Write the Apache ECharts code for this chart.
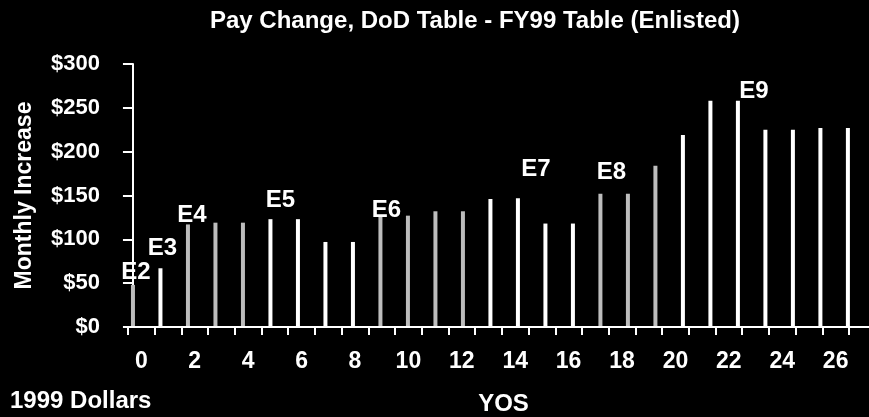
<!DOCTYPE html>
<html>
<head>
<meta charset="utf-8">
<script src="https://cdn.jsdelivr.net/npm/echarts@6/dist/echarts.min.js"></script>
<style>
  html, body { margin: 0; background: #000; }
  #chart { width: 869px; height: 417px; }
</style>
</head>
<body>
<div id="chart"></div>
<script>
// years of service, 0..26
const yos = [0, 1, 2, 3, 4, 5, 6, 7, 8, 9, 10, 11, 12, 13, 14, 15, 16, 17, 18, 19, 20, 21, 22, 23, 24, 25, 26];
// monthly increase, 1999 dollars
const increase = [48, 67, 117, 119, 119, 123, 123, 97, 97, 126, 127, 132, 132, 146, 147, 118, 118, 152, 152, 184, 219, 258, 258, 225, 225, 227, 227];
// stippled (grey) bars vs white bars
const shaded = [1, 0, 1, 1, 1, 0, 0, 0, 0, 1, 1, 1, 1, 0, 0, 0, 0, 1, 1, 1, 0, 0, 0, 0, 0, 0, 0];
// pay grade markers: index of bar -> grade
const gradeAt = { 0: "E2", 1: "E3", 2: "E4", 5: "E5", 9: "E6", 14: "E7", 17: "E8", 22: "E9" };
const yTicks = [0, 50, 100, 150, 200, 250, 300];

// nudges for the grade labels (as placed in the original)
const gradeOffset = {
  E2: [3, -1], E3: [2, -8], E4: [4, 3], E5: [10, -7],
  E6: [6, 6], E7: [18, -17], E8: [11, -9], E9: [16, 3],
};

const font = "'Liberation Sans', Arial, sans-serif";
const txt = { color: "#fff", fontFamily: font, fontWeight: "bold", fontSize: 22 };

const chart = echarts.init(document.getElementById("chart"));

const barData = yos.map((x, i) => {
  const g = gradeAt[i];
  const item = {
    value: [x, increase[i]],
    itemStyle: { color: shaded[i] ? "#bdbdbd" : "#fff" },
  };
  if (g) {
    item.label = {
      show: true,
      position: "top",
      distance: 0,
      offset: gradeOffset[g],
      formatter: g,
      ...txt,
      fontSize: 24,
    };
  }
  return item;
});

const option = {
  backgroundColor: "#000",
  animation: false,
  title: [
    {
      text: "Pay Change, DoD Table - FY99 Table (Enlisted)",
      left: 205,
      top: 4,
      textStyle: { ...txt, fontSize: 24 },
    },
    {
      text: "1999 Dollars",
      left: 5,
      top: 384,
      textStyle: { ...txt, fontSize: 24 },
    },
  ],
  grid: { left: 128, right: 20, top: 64, bottom: 90, containLabel: false, outerBoundsMode: "none" },
  xAxis: [
    {
      type: "category",
      data: yos.map(String),
      boundaryGap: true,
      axisLine: { show: true, onZero: false, lineStyle: { color: "#fff", width: 2 } },
      axisTick: { show: true, interval: 0, length: 8, lineStyle: { color: "#fff", width: 2 } },
      axisLabel: { show: true, interval: 1, margin: 23, ...txt, fontSize: 23 },
      splitLine: { show: false },
      name: "YOS",
      nameLocation: "middle",
      nameGap: 65,
      nameTextStyle: { ...txt, fontSize: 24, padding: [0, 0, 0, 30] },
      z: 5,
    },
    {
      type: "value",
      min: -0.18,
      max: 26.04,
      show: false,
    },
  ],
  yAxis: {
    type: "value",
    min: yTicks[0],
    max: yTicks[yTicks.length - 1],
    interval: 50,
    axisLine: { show: true, lineStyle: { color: "#fff", width: 2 } },
    axisTick: { show: true, length: 10, lineStyle: { color: "#fff", width: 2 } },
    splitLine: { show: false },
    axisLabel: { margin: 28, formatter: (v) => "$" + v, ...txt },
    name: "Monthly Increase",
    nameLocation: "middle",
    nameGap: 92,
    nameRotate: 90,
    nameTextStyle: { ...txt, fontSize: 23 },
  },
  graphic: [
    {
      type: "line",
      shape: { x1: 849, y1: 327, x2: 869, y2: 327 },
      style: { stroke: "#fff", lineWidth: 2 },
    },
  ],
  series: [
    {
      type: "bar",
      xAxisIndex: 1,
      barWidth: 4,
      data: barData,
    },
  ],
};

chart.setOption(option);
</script>
</body>
</html>
